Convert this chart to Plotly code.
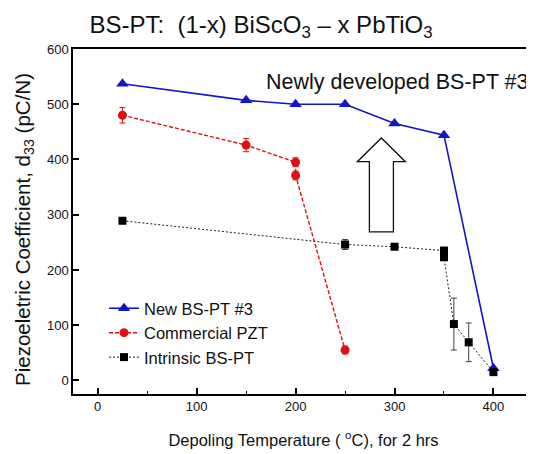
import plotly.graph_objects as go

# ---- data ----
new_x = [25, 150, 200, 250, 300, 350, 400]
new_y = [537, 507, 500, 500, 465, 444, 22]

pzt_x = [25, 150, 200, 200, 250]
pzt_y = [480, 426, 395, 371, 55]
pzt_err = [14, 12, 8, 8, 7]

bspt_x = [25, 250, 300, 350, 350, 360, 375, 400]
bspt_y = [289, 246, 242, 235, 223, 102, 69, 15]
bspt_err = [0, 9, 0, 6, 6, 47, 35, 0]

# arrow outline (data coordinates)
arrow_x = [274.6, 274.6, 262.4, 286.7, 311.0, 298.9, 298.9]
arrow_y = [269, 396, 396, 439, 396, 396, 269]

font = "Liberation Sans, Arial, sans-serif"

# page body has an 8px default margin; size the figure to fit the window
W, H, OFF = 534 - 8, 454 - 8, 8

fig = go.Figure()
fig.add_trace(go.Scatter(
    x=new_x, y=new_y, name="New BS-PT #3", mode="lines+markers",
    line=dict(color="#1414c8", width=1.6),
    marker=dict(symbol="triangle-up", size=11, color="#1414c8")))
fig.add_trace(go.Scatter(
    x=pzt_x, y=pzt_y, name="Commercial PZT", mode="lines+markers",
    line=dict(color="#e01010", width=1.4, dash="4px,2px"),
    marker=dict(symbol="circle", size=9, color="#e01010"),
    error_y=dict(type="data", array=pzt_err, color="#e01010", thickness=1, width=3)))
fig.add_trace(go.Scatter(
    x=bspt_x, y=bspt_y, name="Intrinsic BS-PT", mode="lines+markers",
    line=dict(color="#202020", width=1, dash="2px,2px"),
    marker=dict(symbol="square", size=8, color="#000000"),
    error_y=dict(type="data", array=bspt_err, color="#404040", thickness=1, width=3)))

path = "M " + " L ".join(f"{a},{b}" for a, b in zip(arrow_x, arrow_y)) + " Z"
fig.add_shape(type="path", path=path, xref="x", yref="y",
              line=dict(color="#111111", width=1.3), fillcolor="white")

fig.add_annotation(text="Newly developed BS-PT #3", x=437.5, y=541, xref="x", yref="y",
                   showarrow=False, font=dict(family=font, size=21.5, color="#111"),
                   xanchor="right", yanchor="middle")

# y-axis title (as rotated text, positioned like the reference)
fig.add_annotation(text="Piezoeletric Coefficient, d<sub>33</sub> (pC/N)",
                   xref="paper", yref="paper", x=(24 - 73) / 461, y=(394 - 230) / 345,
                   textangle=-90, showarrow=False, xanchor="center", yanchor="middle",
                   font=dict(family=font, size=20.5, color="#111"))

fig.update_layout(
    width=W, height=H,
    margin=dict(l=73 - OFF, r=0, t=49 - OFF, b=60, pad=0),
    paper_bgcolor="white", plot_bgcolor="white",
    font=dict(family=font, color="#111"),
    title=dict(text="BS-PT:  (1-x) BiScO<sub>3</sub> – x PbTiO<sub>3</sub>",
               x=(261 - OFF) / W, xanchor="center", y=1 - 17 / H, yanchor="middle",
               font=dict(family=font, size=24, color="#111")),
    showlegend=True,
    legend=dict(x=(104 - 73) / 461, y=(394 - 291) / 345, xanchor="left", yanchor="top",
                bgcolor="rgba(255,255,255,0)", font=dict(family=font, size=16.5, color="#111"),
                tracegroupgap=0, itemwidth=30),
    xaxis=dict(range=[-25, 441], showgrid=False, zeroline=False, automargin=False,
               showline=True, linecolor="black", linewidth=1.5, mirror=True,
               ticks="inside", ticklen=6, tickwidth=1.5, tickcolor="black",
               tickvals=[0, 100, 200, 300, 400],
               minor=dict(ticks="inside", ticklen=3, tickwidth=1.2, tickcolor="black", dtick=50),
               tickfont=dict(family=font, size=13, color="#111"),
               title=dict(text="Depoling Temperature ( <sup>o</sup>C), for 2 hrs",
                          font=dict(family=font, size=16.5, color="#111"), standoff=21)),
    yaxis=dict(range=[-24.6, 600], showgrid=False, zeroline=False, automargin=False,
               showline=True, linecolor="black", linewidth=1.5,
               ticks="inside", ticklen=6, tickwidth=1.5, tickcolor="black",
               tickvals=[0, 100, 200, 300, 400, 500, 600],
               tickfont=dict(family=font, size=13, color="#111")),
)

fig.write_html("out.html")
